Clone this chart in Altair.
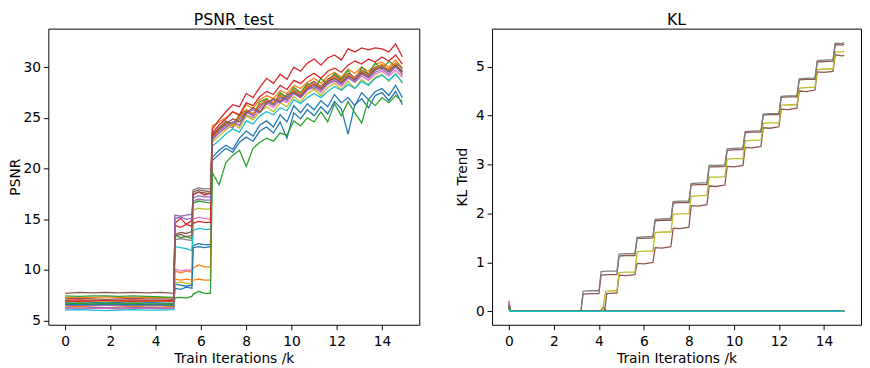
import altair as alt
import pandas as pd

# ---------------- PSNR_test panel ----------------
SERIES = ["s00", "s01", "s02", "s03", "s04", "s05", "s06", "s07",
          "s08", "s09", "s10", "s11", "s12", "s13", "s14", "s15"]
TAB10 = ["#1f77b4", "#ff7f0e", "#2ca02c", "#d62728", "#9467bd", "#8c564b",
         "#e377c2", "#7f7f7f", "#bcbd22", "#17becf",
         "#1f77b4", "#ff7f0e", "#2ca02c", "#d62728", "#9467bd", "#8c564b"]

X1 = [0, 0.6, 1.2, 1.8, 2.4, 3.0, 3.6, 4.2, 4.8]
X2 = [4.85, 5.1, 5.35, 5.6]
X3 = [5.65, 5.9, 6.15, 6.42]
X4 = [6.5, 6.8, 7.1, 7.4, 7.7, 8.0, 8.3, 8.6, 8.9, 9.2, 9.5, 9.8, 10.1, 10.4,
      10.7, 11.0, 11.3, 11.6, 11.9, 12.2, 12.5, 12.8, 13.1, 13.4, 13.7, 14.0,
      14.3, 14.6, 14.9]

P1 = {
    "s00": [6.8, 6.85, 6.8, 6.75, 6.8, 6.85, 6.8, 6.75, 6.7],
    "s01": [7.3, 7.25, 7.3, 7.35, 7.3, 7.25, 7.3, 7.3, 7.2],
    "s02": [7.45, 7.4, 7.45, 7.45, 7.4, 7.45, 7.4, 7.35, 7.3],
    "s03": [7.0, 7.05, 7.0, 6.95, 7.0, 7.05, 7.0, 7.0, 6.95],
    "s04": [6.5, 6.45, 6.5, 6.55, 6.5, 6.45, 6.5, 6.5, 6.45],
    "s05": [7.7, 7.8, 7.75, 7.8, 7.75, 7.8, 7.75, 7.8, 7.7],
    "s06": [6.2, 6.15, 6.2, 6.25, 6.15, 6.2, 6.25, 6.2, 6.2],
    "s07": [6.6, 6.65, 6.6, 6.6, 6.65, 6.6, 6.55, 6.6, 6.6],
    "s08": [6.9, 6.85, 6.9, 6.95, 6.9, 6.85, 6.9, 6.9, 6.85],
    "s09": [6.05, 6.1, 6.05, 6.0, 6.05, 6.1, 6.05, 6.05, 6.1],
    "s10": [6.6, 6.55, 6.6, 6.65, 6.6, 6.55, 6.6, 6.6, 6.5],
    "s11": [6.35, 6.4, 6.35, 6.3, 6.35, 6.4, 6.35, 6.35, 6.4],
    "s12": [6.65, 6.7, 6.65, 6.7, 6.65, 6.7, 6.65, 6.65, 6.6],
    "s13": [6.95, 6.9, 6.95, 7.0, 6.95, 6.9, 6.95, 6.95, 6.9],
    "s14": [6.3, 6.25, 6.3, 6.3, 6.25, 6.3, 6.3, 6.25, 6.3],
    "s15": [7.15, 7.2, 7.15, 7.1, 7.15, 7.2, 7.15, 7.15, 7.1],
}
P2 = {
    "s00": [8.6, 8.5, 8.4, 8.5],
    "s01": [9.9, 9.7, 9.9, 9.8],
    "s02": [13.4, 13.2, 13.3, 13.1],
    "s03": [14.6, 15.1, 14.5, 14.9],
    "s04": [15.4, 15.3, 15.4, 15.5],
    "s05": [13.5, 13.7, 13.6, 13.8],
    "s06": [10.1, 9.9, 10.0, 10.0],
    "s07": [13.0, 13.1, 13.0, 12.9],
    "s08": [8.7, 8.8, 8.7, 8.6],
    "s09": [12.3, 12.2, 12.1, 11.9],
    "s10": [8.2, 8.1, 8.3, 8.2],
    "s11": [9.1, 9.0, 9.1, 9.0],
    "s12": [7.25, 7.3, 7.25, 7.4],
    "s13": [14.4, 14.2, 14.5, 14.3],
    "s14": [15.1, 15.2, 15.0, 15.1],
    "s15": [13.4, 13.5, 13.3, 13.4],
}
P3 = {
    "s00": [12.4, 12.6, 12.5, 12.5],
    "s01": [10.2, 10.5, 10.3, 10.3],
    "s02": [16.6, 16.8, 16.7, 16.6],
    "s03": [17.4, 17.7, 17.4, 17.6],
    "s04": [17.1, 17.3, 17.2, 17.2],
    "s05": [17.7, 17.9, 17.8, 17.7],
    "s06": [15.0, 15.2, 15.1, 15.0],
    "s07": [17.9, 18.1, 18.0, 18.0],
    "s08": [15.9, 16.1, 16.0, 16.0],
    "s09": [13.9, 14.1, 14.0, 14.0],
    "s10": [12.2, 12.3, 12.2, 12.3],
    "s11": [9.0, 9.1, 9.0, 9.0],
    "s12": [7.6, 7.9, 7.7, 7.7],
    "s13": [14.6, 14.8, 14.7, 14.7],
    "s14": [16.8, 17.0, 16.9, 16.9],
    "s15": [17.5, 17.7, 17.6, 17.5],
}
P4 = {
    "s00": [21.1, 21.8, 22.3, 21.9, 23.0, 23.7, 23.2, 24.3, 24.7, 24.1, 25.3, 24.6, 26.2, 25.5, 26.4,
            25.8, 26.7, 26.1, 27.3, 26.5, 27.0, 26.2, 27.5, 26.8, 27.6, 27.9, 27.2, 28.2, 27.0],
    "s01": [24.2, 24.6, 25.0, 25.6, 25.2, 26.3, 25.9, 26.8, 27.2, 26.9, 27.7, 27.4, 28.2, 27.9, 28.5,
            28.9, 28.4, 29.1, 29.5, 29.0, 29.8, 29.4, 30.0, 29.6, 30.3, 30.5, 30.0, 30.7, 29.9],
    "s02": [23.3, 24.0, 24.6, 24.3, 25.3, 25.8, 25.2, 26.6, 26.9, 26.3, 27.5, 27.0, 28.0, 27.5, 28.4,
            27.8, 28.9, 28.3, 29.4, 28.8, 29.7, 28.6, 30.0, 29.3, 30.4, 29.8, 30.6, 30.1, 29.7],
    "s03": [23.9, 24.8, 25.6, 26.3, 26.1, 27.4, 27.0, 28.0, 28.9, 28.4, 29.3, 28.8, 30.0, 29.6, 30.4,
            30.8, 30.2, 30.9, 31.2, 30.7, 31.8, 31.5, 31.9, 31.7, 31.9, 31.8, 31.5, 32.3, 31.0],
    "s04": [23.0, 23.7, 24.3, 24.0, 24.9, 25.6, 25.2, 26.1, 26.6, 26.2, 27.0, 26.7, 27.6, 27.2, 27.9,
            28.3, 27.8, 28.5, 28.9, 28.4, 29.2, 28.8, 29.4, 29.0, 29.7, 30.0, 29.5, 30.1, 29.6],
    "s05": [23.3, 24.0, 24.7, 24.4, 25.2, 25.7, 25.4, 26.3, 26.8, 26.4, 27.3, 26.9, 27.8, 27.4, 28.2,
            28.6, 28.1, 28.8, 29.2, 28.7, 29.4, 29.0, 29.7, 29.3, 30.0, 30.2, 29.8, 30.4, 29.9],
    "s06": [22.8, 23.5, 24.0, 24.6, 24.2, 25.3, 25.0, 25.9, 26.4, 26.0, 26.8, 26.5, 27.4, 27.0, 27.7,
            28.0, 27.5, 28.3, 28.6, 28.1, 28.9, 28.5, 29.1, 28.7, 29.3, 29.6, 29.1, 29.7, 29.0],
    "s07": [23.2, 23.9, 24.5, 24.2, 25.0, 25.6, 25.3, 26.2, 26.7, 26.3, 27.1, 26.8, 27.7, 27.3, 28.0,
            28.4, 27.9, 28.6, 29.0, 28.5, 29.3, 28.9, 29.5, 29.1, 29.8, 30.1, 29.6, 30.2, 29.6],
    "s08": [22.6, 23.2, 23.8, 24.4, 24.0, 25.2, 24.8, 25.6, 26.1, 25.6, 26.5, 26.1, 27.1, 26.6, 27.4,
            27.8, 27.2, 28.0, 28.4, 27.8, 28.6, 27.9, 28.8, 28.3, 29.0, 29.3, 28.6, 29.4, 28.4],
    "s09": [22.2, 22.8, 23.4, 23.9, 23.6, 24.7, 24.4, 25.2, 25.6, 25.3, 26.0, 25.7, 26.8, 26.4, 27.0,
            27.4, 27.0, 27.6, 28.1, 27.7, 28.3, 27.9, 28.6, 28.2, 28.9, 29.2, 28.7, 29.3, 28.5],
    "s10": [20.8, 21.4, 22.0, 21.6, 22.6, 23.1, 22.7, 23.7, 24.1, 23.5, 24.6, 23.0, 25.5, 24.9, 25.8,
            25.2, 26.1, 25.4, 26.6, 25.9, 23.4, 26.3, 26.9, 26.0, 27.2, 27.5, 26.7, 27.6, 26.3],
    "s11": [23.0, 23.8, 24.5, 24.2, 25.1, 25.8, 25.4, 26.3, 26.8, 26.5, 27.2, 27.0, 27.8, 27.4, 28.1,
            28.4, 28.0, 28.7, 29.0, 28.6, 29.3, 28.9, 29.6, 29.2, 29.9, 30.3, 29.7, 30.4, 29.2],
    "s12": [19.6, 18.4, 20.6, 21.3, 21.8, 20.2, 22.0, 22.6, 23.0, 22.7, 23.5, 23.3, 24.7, 24.2, 25.0,
            24.6, 25.6, 24.6, 26.4, 25.2, 26.6, 25.5, 24.5, 26.8, 26.2, 27.0, 26.5, 27.2, 26.6],
    "s13": [23.5, 24.3, 24.9, 25.6, 25.3, 26.5, 26.2, 27.1, 27.6, 27.3, 28.2, 27.8, 28.7, 28.4, 29.0,
            29.4, 28.9, 29.6, 29.9, 29.5, 30.2, 30.6, 30.3, 30.8, 30.5, 31.0, 30.6, 31.2, 30.3],
    "s14": [22.9, 23.5, 24.1, 24.6, 24.3, 25.4, 25.8, 25.5, 26.4, 26.8, 26.5, 27.1, 27.4, 27.0, 27.8,
            28.1, 27.7, 28.4, 28.7, 28.3, 29.0, 28.6, 29.3, 28.9, 29.5, 29.8, 29.3, 30.0, 29.3],
    "s15": [23.1, 23.9, 24.4, 24.9, 24.6, 25.5, 26.0, 25.6, 26.5, 26.9, 26.6, 27.3, 27.5, 27.1, 27.9,
            28.3, 27.9, 28.6, 28.9, 28.5, 29.1, 28.8, 29.5, 29.1, 29.8, 30.0, 29.6, 30.2, 29.5],
}

# ---------------- KL panel ----------------
KL_NAMES = ["k00", "k01", "k02", "k03", "k04", "k05", "k06", "k07", "k08",
            "k09", "k10", "k11", "k12", "k13", "k14", "k15"]
KL_COLORS = ["#1f77b4", "#ff7f0e", "#d62728", "#9467bd", "#e377c2", "#1f77b4",
             "#ff7f0e", "#d62728", "#9467bd", "#8c564b", "#bcbd22", "#8c564b",
             "#7f7f7f", "#2ca02c", "#2ca02c", "#17becf"]
FLAT_X = [0, 0.08, 14.9]
KL_START = {"k00": 0.06, "k01": 0.1, "k03": 0.22, "k04": 0.2, "k05": 0.05,
            "k06": 0.08, "k07": 0.12, "k08": 0.15, "k13": 0.1, "k14": 0.07,
            "k15": 0.04}

RED_X = [0, 0.08, 4.05, 4.2, 4.35, 14.9]
RED_Y = [0.18, 0.0, 0.0, 0.08, 0.0, 0.0]

STEP_X = [0, 0.08, 3.2, 3.3, 3.6, 4.0, 4.1, 4.4, 4.8, 4.9, 5.2, 5.6, 5.7, 6.0, 6.4,
          6.5, 6.8, 7.2, 7.3, 7.6, 8.0, 8.1, 8.4, 8.8, 8.9, 9.2, 9.6, 9.7, 10.0,
          10.4, 10.5, 10.8, 11.2, 11.3, 11.6, 12.0, 12.1, 12.4, 12.8, 12.9, 13.2,
          13.6, 13.7, 14.0, 14.4, 14.5, 14.8, 14.9]
GRAY_Y = [0.08, 0.0, 0.0, 0.41, 0.42, 0.42, 0.81, 0.82, 0.82, 1.17, 1.18, 1.18,
          1.51, 1.52, 1.53, 1.88, 1.89, 1.90, 2.24, 2.25, 2.25, 2.61, 2.62, 2.63,
          2.98, 2.98, 2.99, 3.32, 3.33, 3.34, 3.67, 3.68, 3.69, 4.03, 4.04, 4.04,
          4.39, 4.40, 4.40, 4.75, 4.76, 4.77, 5.12, 5.13, 5.14, 5.48, 5.47, 5.49]
BROWN_TOP_Y = [0.12, 0.0, 0.0, 0.35, 0.36, 0.36, 0.74, 0.75, 0.75, 1.13, 1.14, 1.14,
               1.49, 1.49, 1.50, 1.85, 1.86, 1.86, 2.21, 2.22, 2.22, 2.58, 2.59, 2.59,
               2.95, 2.95, 2.96, 3.29, 3.30, 3.31, 3.65, 3.66, 3.66, 4.01, 4.02, 4.02,
               4.37, 4.38, 4.38, 4.73, 4.74, 4.74, 5.09, 5.10, 5.11, 5.45, 5.44, 5.46]

OLIVE_X = [0, 0.08, 4.15, 4.3, 4.6, 4.8, 4.9, 5.2, 5.6, 5.7, 6.0, 6.4, 6.5, 6.8,
           7.2, 7.3, 7.6, 8.0, 8.1, 8.4, 8.8, 8.9, 9.2, 9.6, 9.7, 10.0, 10.4,
           10.5, 10.8, 11.2, 11.3, 11.6, 12.0, 12.1, 12.4, 12.8, 12.9, 13.2, 13.6,
           13.7, 14.0, 14.4, 14.5, 14.8, 14.9]
OLIVE_Y = [0.05, 0.0, 0.0, 0.41, 0.42, 0.42, 0.79, 0.80, 0.80, 1.22, 1.23, 1.23,
           1.61, 1.62, 1.62, 1.98, 1.99, 1.99, 2.35, 2.36, 2.37, 2.74, 2.74, 2.75,
           3.11, 3.12, 3.12, 3.48, 3.49, 3.50, 3.84, 3.85, 3.85, 4.21, 4.22, 4.22,
           4.56, 4.57, 4.58, 4.94, 4.95, 4.95, 5.30, 5.30, 5.31]
BROWN_LOW_X = [0, 0.08, 4.25, 4.35, 4.6, 4.8, 4.9, 5.2, 5.6, 5.7, 6.0, 6.4, 6.5,
               6.8, 7.2, 7.3, 7.6, 8.0, 8.1, 8.4, 8.8, 8.9, 9.2, 9.6, 9.7, 10.0,
               10.4, 10.5, 10.8, 11.2, 11.3, 11.6, 12.0, 12.1, 12.4, 12.8, 12.9,
               13.2, 13.6, 13.7, 14.0, 14.4, 14.5, 14.8, 14.9]
BROWN_LOW_Y = [0.1, 0.0, 0.0, 0.36, 0.37, 0.37, 0.74, 0.73, 0.75, 0.98, 0.97, 1.0,
               1.30, 1.29, 1.32, 1.70, 1.69, 1.72, 2.16, 2.15, 2.18, 2.56, 2.55,
               2.58, 2.96, 2.95, 2.98, 3.35, 3.34, 3.37, 3.75, 3.74, 3.77, 4.13,
               4.12, 4.15, 4.50, 4.49, 4.52, 4.89, 4.88, 4.90, 5.24, 5.22, 5.23]

FONT = "DejaVu Sans"

# ---------------- build tables ----------------
rows = []
for s in SERIES:
    xs = X1 + X2 + X3 + X4
    ys = P1[s] + P2[s] + P3[s] + P4[s]
    for i, (x, y) in enumerate(zip(xs, ys)):
        rows.append({"series": s, "x": x, "y": y, "i": i})
psnr_df = pd.DataFrame(rows)

kl_rows = []
def add_kl(name, xs, ys):
    for i, (x, y) in enumerate(zip(xs, ys)):
        kl_rows.append({"series": name, "x": x, "y": y, "i": i})

for name in KL_NAMES:
    if name == "k02":
        add_kl(name, RED_X, RED_Y)
    elif name == "k09":
        add_kl(name, BROWN_LOW_X, BROWN_LOW_Y)
    elif name == "k10":
        add_kl(name, OLIVE_X, OLIVE_Y)
    elif name == "k11":
        add_kl(name, STEP_X, BROWN_TOP_Y)
    elif name == "k12":
        add_kl(name, STEP_X, GRAY_Y)
    else:
        add_kl(name, FLAT_X, [KL_START.get(name, 0.03), 0.0, 0.0])
kl_df = pd.DataFrame(kl_rows)

XDOM = [-0.745, 15.645]
XTICKS = [0, 2, 4, 6, 8, 10, 12, 14]


def panel(df, names, colors, ydom, yticks, ytitle, title, ytitle_pad, w):
    return alt.Chart(df).mark_line(strokeWidth=1.3, clip=True).encode(
        x=alt.X("x:Q", scale=alt.Scale(domain=XDOM, nice=False, zero=False),
                axis=alt.Axis(values=XTICKS, title="Train Iterations /k",
                              format="d")),
        y=alt.Y("y:Q", scale=alt.Scale(domain=ydom, nice=False, zero=False),
                axis=alt.Axis(values=yticks, title=ytitle, format="d",
                              titlePadding=ytitle_pad)),
        color=alt.Color("series:N", scale=alt.Scale(domain=names, range=colors),
                        legend=None),
        order="i:Q",
    ).properties(
        width=w, height=301,
        title=alt.TitleParams(title, fontSize=16, font=FONT, fontWeight="normal",
                              offset=1, color="black"),
    )


left = panel(psnr_df, SERIES, TAB10, [4.6, 33.8], [5, 10, 15, 20, 25, 30],
             "PSNR", "PSNR_test", 0, 377)
right = panel(kl_df, KL_NAMES, KL_COLORS, [-0.275, 5.775], [0, 1, 2, 3, 4, 5],
              "KL Trend", "KL", 6, 375)

chart = alt.hconcat(left, right, spacing=35).resolve_scale(
    color="independent"
).properties(
    padding={"left": 0, "top": 0, "right": 0, "bottom": 0}
).configure_view(
    stroke="black", strokeWidth=1
).configure_axis(
    grid=False, domain=False, tickColor="black", tickSize=5, tickWidth=1,
    labelFont=FONT, titleFont=FONT, labelFontSize=14, titleFontSize=14,
    labelColor="black", titleColor="black", titleFontWeight="normal",
    labelPadding=3,
).configure_axisX(
    titlePadding=3, labelPadding=5
)

chart.save("out.html", embed_options={"renderer": "svg", "actions": False})
